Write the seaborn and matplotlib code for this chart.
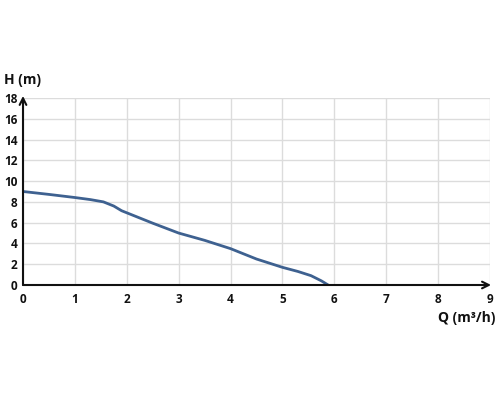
import seaborn as sns
import matplotlib.pyplot as plt
import pandas as pd

flow = [0, 0.5, 1.0, 1.3, 1.55, 1.75, 1.9, 2.1, 2.5, 3.0, 3.5, 4.0, 4.5, 5.0, 5.3, 5.55, 5.75, 5.88]
head = [9.0, 8.72, 8.42, 8.22, 8.0, 7.6, 7.15, 6.75, 5.95, 5.0, 4.3, 3.5, 2.5, 1.7, 1.3, 0.9, 0.4, 0.0]
x_ticks = list(range(0, 10))
y_ticks = list(range(0, 19, 2))

df = pd.DataFrame({"Q": flow, "H": head})

sns.set_theme(style="white")
plt.rcParams["font.family"] = ["Open Sans", "DejaVu Sans"]

fig = plt.figure(figsize=(5, 4), dpi=100)
ax = fig.add_axes([0.046, 0.2875, 0.934, 0.4675])

sns.lineplot(data=df, x="Q", y="H", ax=ax, color="#3e6190", linewidth=2)

ax.set_xlim(0, 9)
ax.set_ylim(0, 18)
ax.set_xticks(x_ticks)
ax.set_yticks(y_ticks)
ax.grid(True, color="#dcdcdc", linewidth=1)
ax.tick_params(length=0, labelsize=8.5, colors="#111111")
ax.tick_params(axis="y", pad=4)
ax.tick_params(axis="x", pad=6)
for lab in ax.get_xticklabels() + ax.get_yticklabels():
    lab.set_fontweight("bold")

for s in ["top", "right", "left", "bottom"]:
    ax.spines[s].set_visible(False)

# axes with arrow heads
ax.annotate("", xy=(9.02, 0), xytext=(0, 0), annotation_clip=False,
            arrowprops=dict(arrowstyle="->", color="#111111", lw=1.5, shrinkA=0, shrinkB=0))
ax.annotate("", xy=(0, 18.2), xytext=(0, 0), annotation_clip=False,
            arrowprops=dict(arrowstyle="->", color="#111111", lw=1.5, shrinkA=0, shrinkB=0))

ax.set_xlabel("")
ax.set_ylabel("")
fig.text(0.008, 0.8, "H (m)", fontsize=10, fontweight="bold", color="#111111", va="center")
fig.text(0.99, 0.205, "Q (m³/h)", fontsize=10, fontweight="bold", color="#111111",
         va="center", ha="right")

fig.savefig("out.png", dpi=100)
